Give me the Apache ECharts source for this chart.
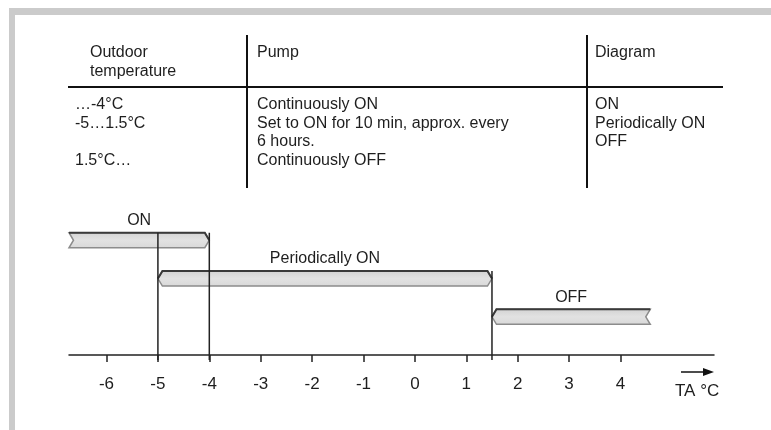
<!DOCTYPE html>
<html>
<head>
<meta charset="utf-8">
<script src="https://cdn.jsdelivr.net/npm/echarts@6/dist/echarts.min.js"></script>
<style>
html,body{margin:0;padding:0;background:#fff;}
#chart{width:771px;height:430px;}
</style>
</head>
<body>
<div id="chart"></div>
<script>
// ---- data ----
const states = ['ON', 'Periodically ON', 'OFF'];
const rangeStart = [-6.73, -5, 1.5];
const rangeEnd = [-4, 1.5, 4.58];
const openStart = [true, false, false];
const openEnd = [false, false, true];
const rowLevel = [3, 2, 1];
const boundaries = [-5, -4, 1.5];
const tickValues = [-6, -5, -4, -3, -2, -1, 0, 1, 2, 3, 4];
const axisTitle = 'TA °C';
const tableHeaders = ['Outdoor\ntemperature', 'Pump', 'Diagram'];
const colTemperature = ['…-4°C', '-5…1.5°C', '', '1.5°C…'];
const colPump = ['Continuously ON', 'Set to ON for 10 min, approx. every', '6 hours.', 'Continuously OFF'];
const colDiagram = ['ON', 'Periodically ON', 'OFF'];

// ---- styling ----
const FONT = '"Liberation Sans", Arial, sans-serif';
const TXT = '#1e1e1e';
const HALF_H = 7.5;
const TIP = 4.5;

const barData = states.map((s, i) => [rangeStart[i], rangeEnd[i], rowLevel[i], i]);
const boundaryData = boundaries.map(b => {
  let lvl = 0;
  states.forEach((s, i) => { if (rangeStart[i] <= b && b <= rangeEnd[i]) lvl = Math.max(lvl, rowLevel[i]); });
  return [b, lvl];
});

function renderBar(params, api) {
  const i = api.value(3);
  const s = api.coord([api.value(0), api.value(2)]);
  const e = api.coord([api.value(1), api.value(2)]);
  const x0 = s[0], x1 = e[0], yc = s[1];
  const top = yc - HALF_H, bot = yc + HALF_H;
  const lT = openStart[i] ? [x0, top] : [x0 + TIP, top];
  const lM = openStart[i] ? [x0 + TIP, yc] : [x0, yc];
  const lB = openStart[i] ? [x0, bot] : [x0 + TIP, bot];
  const rT = openEnd[i] ? [x1, top] : [x1 - TIP, top];
  const rM = openEnd[i] ? [x1 - TIP, yc] : [x1, yc];
  const rB = openEnd[i] ? [x1, bot] : [x1 - TIP, bot];
  const topLine = [];
  if (!openStart[i]) topLine.push(lM);
  topLine.push(lT, rT);
  if (!openEnd[i]) topLine.push(rM);
  return {
    type: 'group',
    children: [
      {
        type: 'polygon',
        shape: { points: [lT, rT, rM, rB, lB, lM] },
        style: {
          fill: new echarts.graphic.LinearGradient(0, 0, 0, 1, [
            { offset: 0, color: '#d2d2d2' },
            { offset: 0.5, color: '#e2e2e2' },
            { offset: 1, color: '#d8d8d8' }
          ]),
          stroke: '#8c8c8c',
          lineWidth: 1.5
        }
      },
      {
        type: 'polyline',
        shape: { points: topLine },
        style: { stroke: '#3a3a3a', lineWidth: 2, fill: null }
      },
      {
        type: 'text',
        style: {
          text: states[i],
          x: (x0 + x1) / 2,
          y: top - 12,
          align: 'center',
          verticalAlign: 'middle',
          font: '16px ' + FONT,
          fill: TXT
        }
      }
    ]
  };
}

function renderBoundary(params, api) {
  const p = api.coord([api.value(0), api.value(1)]);
  const cs = params.coordSys;
  return {
    type: 'line',
    shape: { x1: p[0], y1: p[1] - HALF_H, x2: p[0], y2: cs.y + cs.height },
    style: { stroke: '#222', lineWidth: 1.5 }
  };
}

const chart = echarts.init(document.getElementById('chart'), null, { renderer: 'canvas' });
chart.setOption({
  backgroundColor: '#ffffff',
  animation: false,
  grid: { left: 69, right: 57, top: 202, bottom: 70 },
  xAxis: {
    type: 'value',
    min: -6.73,
    max: 5.82,
    splitLine: { show: false },
    axisLine: { show: true, lineStyle: { color: '#222', width: 1.5 } },
    axisTick: { show: true, customValues: tickValues, length: 7, lineStyle: { color: '#222', width: 1.5 } },
    axisLabel: { customValues: tickValues, margin: 16, color: TXT, fontSize: 17, fontFamily: FONT }
  },
  yAxis: { type: 'value', min: -0.13, max: 4, show: false, splitLine: { show: false } },
  series: [
    { type: 'custom', renderItem: renderBar, data: barData, z: 2, silent: true, clip: false },
    { type: 'custom', renderItem: renderBoundary, data: boundaryData, z: 3, silent: true, clip: false }
  ],
  graphic: [
    // frame
    { type: 'rect', shape: { x: 9, y: 8, width: 762, height: 7 }, style: { fill: '#cbcbcb' }, silent: true },
    { type: 'rect', shape: { x: 9, y: 8, width: 6, height: 422 }, style: { fill: '#cbcbcb' }, silent: true },
    // table grid
    { type: 'line', shape: { x1: 68, y1: 87, x2: 723, y2: 87 }, style: { stroke: '#111', lineWidth: 2 } },
    { type: 'line', shape: { x1: 247, y1: 35, x2: 247, y2: 188 }, style: { stroke: '#111', lineWidth: 2 } },
    { type: 'line', shape: { x1: 587, y1: 35, x2: 587, y2: 188 }, style: { stroke: '#111', lineWidth: 2 } },
    // headers
    { type: 'text', style: { text: tableHeaders[0], x: 90, y: 43.5, lineHeight: 18.5, font: '16px ' + FONT, fill: TXT, verticalAlign: 'top' } },
    { type: 'text', style: { text: tableHeaders[1], x: 257, y: 43.5, lineHeight: 18.5, font: '16px ' + FONT, fill: TXT, verticalAlign: 'top' } },
    { type: 'text', style: { text: tableHeaders[2], x: 595, y: 43.5, lineHeight: 18.5, font: '16px ' + FONT, fill: TXT, verticalAlign: 'top' } },
    // rows
    { type: 'text', style: { text: colTemperature.join('\n'), x: 75, y: 95, lineHeight: 18.8, font: '16px ' + FONT, fill: TXT, verticalAlign: 'top' } },
    { type: 'text', style: { text: colPump.join('\n'), x: 257, y: 95, lineHeight: 18.8, font: '16px ' + FONT, fill: TXT, verticalAlign: 'top' } },
    { type: 'text', style: { text: colDiagram.join('\n'), x: 595, y: 95, lineHeight: 18.8, font: '16px ' + FONT, fill: TXT, verticalAlign: 'top' } },
    // axis arrow and title
    { type: 'line', shape: { x1: 681, y1: 372, x2: 704, y2: 372 }, style: { stroke: '#111', lineWidth: 1.5 } },
    { type: 'polygon', shape: { points: [[703, 368], [714, 372], [703, 376]] }, style: { fill: '#111' } },
    { type: 'text', style: { text: axisTitle, x: 675, y: 391.5, font: '17px ' + FONT, fill: TXT, verticalAlign: 'middle' } }
  ]
});
</script>
</body>
</html>
